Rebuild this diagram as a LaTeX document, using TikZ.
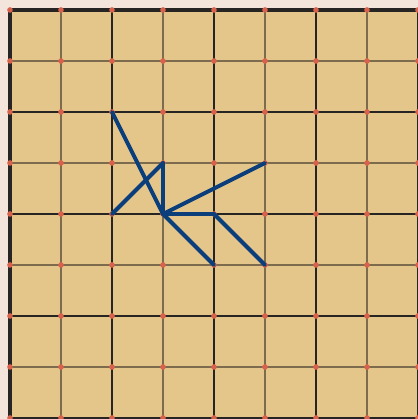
\documentclass[tikz,border=0pt]{standalone}
\usepackage{xcolor}
\usepackage{tikz}
\usetikzlibrary{positioning}
\definecolor{boardwood}{HTML}{E5C68A}
\definecolor{boardmargin}{HTML}{F3E5DB}
\definecolor{gridlight}{HTML}{7D6B4E}
\definecolor{griddark}{HTML}{262523}
\definecolor{pointred}{HTML}{D9624C}
\definecolor{moveblue}{HTML}{0B3F7C}

\begin{document}
\begin{tikzpicture}[
  x=1cm,y=-1cm,
  lightline/.style={draw=gridlight,line width=0.7pt},
  darkline/.style={draw=griddark,line width=0.9pt},
  edgeline/.style={draw=griddark,line width=2.3pt,line join=miter},
  point/.style={fill=pointred},
  move/.style={draw=moveblue,line width=2.2pt,line cap=round}
]
\useasboundingbox (-0.196,-0.196) rectangle (8.0,8.02);
\fill[boardmargin] (-0.196,-0.196) rectangle (8.0,8.02);
\fill[boardwood] (0,0) rectangle (8.2,8.2);

% grid lines, every other one darker
\foreach \i in {1,3,5,7} {
  \draw[lightline] (\i,0) -- (\i,8.2);
  \draw[lightline] (0,\i) -- (8.2,\i);
}
\foreach \i in {2,4,6,8} {
  \draw[darkline] (\i,0) -- (\i,8.2);
  \draw[darkline] (0,\i) -- (8.2,\i);
}
\draw[edgeline] (0,8.2) -- (0,0) -- (8.2,0);

% intersection points
\foreach \i in {0,...,8}
  \foreach \j in {0,...,8}
    \fill[point] (\i,\j) circle (0.055);

% move points
\coordinate (a) at (2,2);
\coordinate (b) at (2,4);
\coordinate (c) at (3,3);
\coordinate (hub) at (3,4);
\coordinate (d) at (4,4);
\coordinate (e) at (5,3);
\coordinate (f) at (4,5);
\coordinate (g) at (5,5);

\draw[move] (a) -- (hub);
\draw[move] (b) -- (c);
\draw[move] (c) -- (hub);
\draw[move] (hub) -- (e);
\draw[move] (hub) -- (d);
\draw[move] (hub) -- (f);
\draw[move] (d) -- (g);
\end{tikzpicture}
\end{document}
